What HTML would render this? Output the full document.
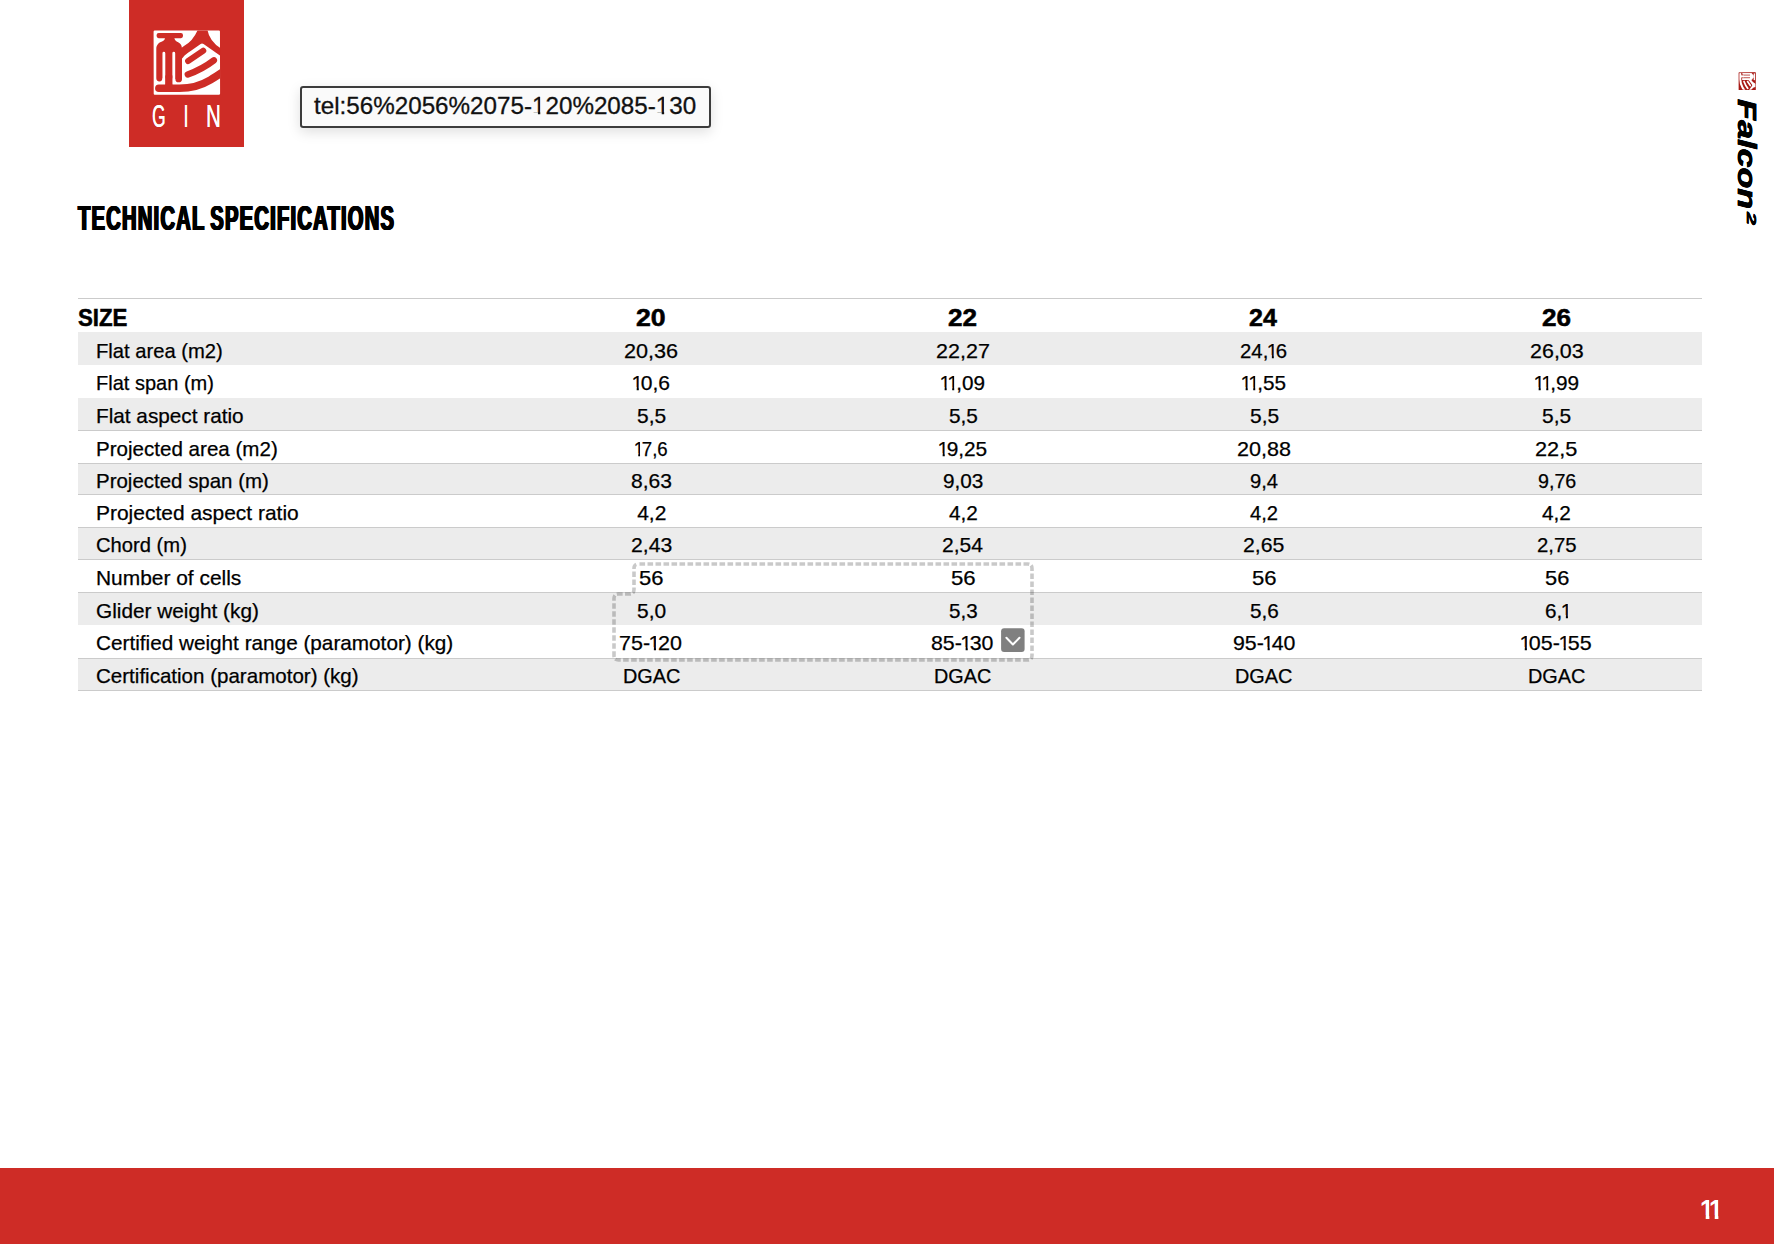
<!DOCTYPE html>
<html lang="en">
<head>
<meta charset="utf-8">
<title>Falcon 2 – Technical specifications</title>
<style>
html,body{margin:0;padding:0;background:#fff;}
body{width:1774px;height:1244px;position:relative;overflow:hidden;font-family:"Liberation Sans",sans-serif;color:#000;}
.t{position:absolute;white-space:nowrap;line-height:1em;transform-origin:0 0;display:block;}
.n{display:inline-block;margin:0 -0.12em 0 -0.07em;clip-path:polygon(0 0,62% 0,62% 100%,44% 100%,44% 73%,0 73%);}
.m{display:inline-block;clip-path:polygon(0 0,62% 0,62% 100%,44% 100%,44% 73%,0 73%);}
.k{display:inline-block;clip-path:polygon(0 0,68% 0,68% 100%,41% 100%,41% 69%,0 69%);}
.g{position:absolute;left:78px;width:1624px;background:#ececec;}
.b{position:absolute;left:78px;width:1624px;height:1px;background:#cbcbcb;}
#logo{position:absolute;left:129px;top:0;width:115px;height:147px;background:#ce2c26;}
#footer{position:absolute;left:0;top:1168.3px;width:1774px;height:76px;background:#ce2c26;}
#tip{position:absolute;left:300px;top:86px;width:411.2px;height:41.8px;box-sizing:border-box;border:2px solid #3c3c3c;border-radius:3.2px;background:#fafafa;box-shadow:0 4px 13px rgba(0,0,0,.13);}
</style>
</head>
<body>
<div id="logo"></div>
<div id="tip"></div>
<div id="table">
<div class="g" style="top:332.4px;height:32.5px"></div>
<div class="g" style="top:398.0px;height:32.4px"></div>
<div class="g" style="top:463.0px;height:31.6px"></div>
<div class="g" style="top:527.0px;height:32.5px"></div>
<div class="g" style="top:592.3px;height:32.4px"></div>
<div class="g" style="top:658.1px;height:32.7px"></div>
<div class="b" style="top:298px"></div>
<div class="b" style="top:430px"></div>
<div class="b" style="top:463px"></div>
<div class="b" style="top:494px"></div>
<div class="b" style="top:527px"></div>
<div class="b" style="top:559px"></div>
<div class="b" style="top:592px"></div>
<div class="b" style="top:658px"></div>
<div class="b" style="top:690px"></div>
</div>
<div id="footer"></div>
<svg id="seal" viewBox="0 0 1244 1244" width="80" height="80" style="position:absolute;left:146px;top:24px">
<defs><clipPath id="cl1"><rect x="119" y="100" width="1032" height="1000" rx="16"/></clipPath></defs>
<path fill="#fff" d="M136,100 L1134,100 Q1150,100 1150,118 L1152,1084 Q1150,1100 1134,1100 L136,1100 Q120,1100 120,1084 L118,118 Q120,100 136,100 Z"/>
<g clip-path="url(#cl1)" fill="#ce2c26">
<rect x="165" y="140" width="410" height="80" rx="32"/>
<path d="M295,215 C295,245 280,262 250,272 C195,290 160,325 160,390 L160,845 A48,48 0 0 0 256,845 L300,845 L300,1000 L410,1000 L410,845 L455,855 A52,52 0 0 0 560,855 L560,400 C560,340 545,305 500,285 C465,270 445,250 440,215 Z"/>
<path d="M278,455 L278,925 M432,455 L432,925" stroke="#fff" stroke-width="44" stroke-linecap="round" fill="none"/>
<rect x="300" y="800" width="110" height="200"/>
<path d="M200,1000 L520,1000 C700,1000 850,960 1000,870 C1070,828 1120,795 1230,720" stroke="#ce2c26" stroke-width="118" stroke-linecap="round" fill="none"/>
<path d="M806,90 Q725,275 585,345 L540,380 L540,560 L575,520 C600,480 640,455 700,415 L850,310 Q872,295 895,312 L1170,505 L1170,385 Q985,268 955,90 Z"/>
<path d="M655,575 L890,415" stroke="#ce2c26" stroke-width="95" stroke-linecap="round" fill="none"/>
<path d="M650,785 Q880,700 1055,565" stroke="#ce2c26" stroke-width="100" stroke-linecap="round" fill="none"/>
</g>
</svg>
<svg id="seal2" viewBox="100 80 1070 1040" width="18.3" height="18.4" style="position:absolute;left:1737.85px;top:72.0px;transform:rotate(90deg)">
<defs><clipPath id="cl2"><rect x="119" y="100" width="1032" height="1000" rx="16"/></clipPath></defs>
<path fill="#a81a16" d="M136,100 L1134,100 Q1150,100 1150,118 L1152,1084 Q1150,1100 1134,1100 L136,1100 Q120,1100 120,1084 L118,118 Q120,100 136,100 Z"/>
<g clip-path="url(#cl2)" fill="#fff">
<rect x="165" y="140" width="410" height="80" rx="32"/>
<path d="M295,215 C295,245 280,262 250,272 C195,290 160,325 160,390 L160,845 A48,48 0 0 0 256,845 L300,845 L300,1000 L410,1000 L410,845 L455,855 A52,52 0 0 0 560,855 L560,400 C560,340 545,305 500,285 C465,270 445,250 440,215 Z"/>
<path d="M278,455 L278,925 M432,455 L432,925" stroke="#a81a16" stroke-width="44" stroke-linecap="round" fill="none"/>
<rect x="300" y="800" width="110" height="200"/>
<path d="M200,1000 L520,1000 C700,1000 850,960 1000,870 C1070,828 1120,795 1230,720" stroke="#fff" stroke-width="118" stroke-linecap="round" fill="none"/>
<path d="M806,90 Q725,275 585,345 L540,380 L540,560 L575,520 C600,480 640,455 700,415 L850,310 Q872,295 895,312 L1170,505 L1170,385 Q985,268 955,90 Z"/>
<path d="M655,575 L890,415" stroke="#fff" stroke-width="95" stroke-linecap="round" fill="none"/>
<path d="M650,785 Q880,700 1055,565" stroke="#fff" stroke-width="100" stroke-linecap="round" fill="none"/>
</g>
<rect x="135" y="115" width="1000" height="970" rx="10" fill="none" stroke="#a81a16" stroke-width="20"/>
</svg>
<svg id="sel" width="1774" height="1244" viewBox="0 0 1774 1244" style="position:absolute;left:0;top:0;pointer-events:none">
<path d="M638.5,564.0 L1027.5,564.0 Q1032.0,564.0 1032.0,568.5 L1032.0,655.5 Q1032.0,660.0 1027.5,660.0 L618.5,660.0 Q614.0,660.0 614.0,655.5 L614.0,598.5 Q614.0,594.0 618.5,594.0 L629.5,594.0 Q634.0,594.0 634.0,589.5 L634.0,568.5 Q634.0,564.0 638.5,564.0 Z" fill="none" stroke="#000" stroke-opacity="0.21" stroke-width="3.6" stroke-dasharray="5.6 2.4" stroke-dashoffset="-1"/>
<rect x="1001.1" y="628.2" width="23.5" height="23.8" rx="3" fill="#808080"/>
<path d="M1006.4,637.8 L1012.9,644.5 L1019.5,637.8" fill="none" stroke="#fff" stroke-width="2" stroke-linecap="round" stroke-linejoin="round"/>
</svg>
<span class="t" style="left:96.16px;top:340.00px;font-size:21px;transform:scaleX(0.9617);-webkit-text-stroke:0.25px #000;">Flat area (m2)</span>
<span class="t" style="left:96.16px;top:372.00px;font-size:21px;transform:scaleX(0.9530);-webkit-text-stroke:0.25px #000;">Flat span (m)</span>
<span class="t" style="left:96.16px;top:405.00px;font-size:21px;transform:scaleX(0.9878);-webkit-text-stroke:0.25px #000;">Flat aspect ratio</span>
<span class="t" style="left:96.16px;top:438.00px;font-size:21px;transform:scaleX(0.9796);-webkit-text-stroke:0.25px #000;">Projected area (m2)</span>
<span class="t" style="left:96.16px;top:470.00px;font-size:21px;transform:scaleX(0.9744);-webkit-text-stroke:0.25px #000;">Projected span (m)</span>
<span class="t" style="left:96.16px;top:502.00px;font-size:21px;transform:scaleX(0.9982);-webkit-text-stroke:0.25px #000;">Projected aspect ratio</span>
<span class="t" style="left:96.16px;top:534.00px;font-size:21px;transform:scaleX(0.9613);-webkit-text-stroke:0.25px #000;">Chord (m)</span>
<span class="t" style="left:96.16px;top:567.00px;font-size:21px;transform:scaleX(0.9958);-webkit-text-stroke:0.25px #000;">Number of cells</span>
<span class="t" style="left:96.16px;top:600.00px;font-size:21px;transform:scaleX(0.9899);-webkit-text-stroke:0.25px #000;">Glider weight (kg)</span>
<span class="t" style="left:96.16px;top:632.00px;font-size:21px;transform:scaleX(0.9872);-webkit-text-stroke:0.25px #000;">Certified weight range (paramotor) (kg)</span>
<span class="t" style="left:96.16px;top:665.00px;font-size:21px;transform:scaleX(0.9783);-webkit-text-stroke:0.25px #000;">Certification (paramotor) (kg)</span>
<span class="t" style="left:624.07px;top:340.00px;font-size:21px;transform:scaleX(1.0305);-webkit-text-stroke:0.25px #000;">20,36</span>
<span class="t" style="left:632.80px;top:372.00px;font-size:21px;transform:scaleX(1.0028);-webkit-text-stroke:0.25px #000;"><span class="n">1</span>0,6</span>
<span class="t" style="left:636.95px;top:405.00px;font-size:21px;transform:scaleX(0.9982);-webkit-text-stroke:0.25px #000;">5,5</span>
<span class="t" style="left:634.86px;top:438.00px;font-size:21px;transform:scaleX(0.8873);-webkit-text-stroke:0.25px #000;"><span class="n">1</span>7,6</span>
<span class="t" style="left:630.95px;top:470.00px;font-size:21px;transform:scaleX(1.0013);-webkit-text-stroke:0.25px #000;">8,63</span>
<span class="t" style="left:637.15px;top:502.00px;font-size:21px;transform:scaleX(1.0000);-webkit-text-stroke:0.25px #000;">4,2</span>
<span class="t" style="left:630.69px;top:534.00px;font-size:21px;transform:scaleX(1.0077);-webkit-text-stroke:0.25px #000;">2,43</span>
<span class="t" style="left:638.91px;top:567.00px;font-size:21px;transform:scaleX(1.0483);-webkit-text-stroke:0.25px #000;">56</span>
<span class="t" style="left:636.95px;top:600.00px;font-size:21px;transform:scaleX(0.9982);-webkit-text-stroke:0.25px #000;">5,0</span>
<span class="t" style="left:619.28px;top:632.00px;font-size:21px;transform:scaleX(1.0243);-webkit-text-stroke:0.25px #000;">75-<span class="n">1</span>20</span>
<span class="t" style="left:622.58px;top:665.00px;font-size:21px;transform:scaleX(0.9470);-webkit-text-stroke:0.25px #000;">DGAC</span>
<span class="t" style="left:935.88px;top:340.00px;font-size:21px;transform:scaleX(1.0246);-webkit-text-stroke:0.25px #000;">22,27</span>
<span class="t" style="left:940.71px;top:372.00px;font-size:21px;transform:scaleX(0.9850);-webkit-text-stroke:0.25px #000;"><span class="n">1</span><span class="n">1</span>,09</span>
<span class="t" style="left:948.56px;top:405.00px;font-size:21px;transform:scaleX(0.9910);-webkit-text-stroke:0.25px #000;">5,5</span>
<span class="t" style="left:938.80px;top:438.00px;font-size:21px;transform:scaleX(0.9926);-webkit-text-stroke:0.25px #000;"><span class="n">1</span>9,25</span>
<span class="t" style="left:942.96px;top:470.00px;font-size:21px;transform:scaleX(0.9885);-webkit-text-stroke:0.25px #000;">9,03</span>
<span class="t" style="left:948.55px;top:502.00px;font-size:21px;transform:scaleX(0.9893);-webkit-text-stroke:0.25px #000;">4,2</span>
<span class="t" style="left:941.90px;top:534.00px;font-size:21px;transform:scaleX(1.0025);-webkit-text-stroke:0.25px #000;">2,54</span>
<span class="t" style="left:950.61px;top:567.00px;font-size:21px;transform:scaleX(1.0575);-webkit-text-stroke:0.25px #000;">56</span>
<span class="t" style="left:948.56px;top:600.00px;font-size:21px;transform:scaleX(0.9802);-webkit-text-stroke:0.25px #000;">5,3</span>
<span class="t" style="left:931.34px;top:632.00px;font-size:21px;transform:scaleX(1.0167);-webkit-text-stroke:0.25px #000;">85-<span class="n">1</span>30</span>
<span class="t" style="left:933.88px;top:665.00px;font-size:21px;transform:scaleX(0.9436);-webkit-text-stroke:0.25px #000;">DGAC</span>
<span class="t" style="left:1240.23px;top:340.00px;font-size:21px;transform:scaleX(0.9690);-webkit-text-stroke:0.25px #000;">24,<span class="n">1</span>6</span>
<span class="t" style="left:1242.01px;top:372.00px;font-size:21px;transform:scaleX(0.9862);-webkit-text-stroke:0.25px #000;"><span class="n">1</span><span class="n">1</span>,55</span>
<span class="t" style="left:1249.65px;top:405.00px;font-size:21px;transform:scaleX(0.9982);-webkit-text-stroke:0.25px #000;">5,5</span>
<span class="t" style="left:1236.97px;top:438.00px;font-size:21px;transform:scaleX(1.0286);-webkit-text-stroke:0.25px #000;">20,88</span>
<span class="t" style="left:1250.18px;top:470.00px;font-size:21px;transform:scaleX(0.9607);-webkit-text-stroke:0.25px #000;">9,4</span>
<span class="t" style="left:1250.16px;top:502.00px;font-size:21px;transform:scaleX(0.9607);-webkit-text-stroke:0.25px #000;">4,2</span>
<span class="t" style="left:1242.99px;top:534.00px;font-size:21px;transform:scaleX(1.0140);-webkit-text-stroke:0.25px #000;">2,65</span>
<span class="t" style="left:1252.01px;top:567.00px;font-size:21px;transform:scaleX(1.0529);-webkit-text-stroke:0.25px #000;">56</span>
<span class="t" style="left:1249.66px;top:600.00px;font-size:21px;transform:scaleX(0.9874);-webkit-text-stroke:0.25px #000;">5,6</span>
<span class="t" style="left:1232.94px;top:632.00px;font-size:21px;transform:scaleX(1.0167);-webkit-text-stroke:0.25px #000;">95-<span class="n">1</span>40</span>
<span class="t" style="left:1234.98px;top:665.00px;font-size:21px;transform:scaleX(0.9470);-webkit-text-stroke:0.25px #000;">DGAC</span>
<span class="t" style="left:1529.88px;top:340.00px;font-size:21px;transform:scaleX(1.0227);-webkit-text-stroke:0.25px #000;">26,03</span>
<span class="t" style="left:1534.61px;top:372.00px;font-size:21px;transform:scaleX(0.9896);-webkit-text-stroke:0.25px #000;"><span class="n">1</span><span class="n">1</span>,99</span>
<span class="t" style="left:1542.25px;top:405.00px;font-size:21px;transform:scaleX(0.9982);-webkit-text-stroke:0.25px #000;">5,5</span>
<span class="t" style="left:1535.17px;top:438.00px;font-size:21px;transform:scaleX(1.0344);-webkit-text-stroke:0.25px #000;">22,5</span>
<span class="t" style="left:1538.00px;top:470.00px;font-size:21px;transform:scaleX(0.9376);-webkit-text-stroke:0.25px #000;">9,76</span>
<span class="t" style="left:1542.45px;top:502.00px;font-size:21px;transform:scaleX(0.9893);-webkit-text-stroke:0.25px #000;">4,2</span>
<span class="t" style="left:1536.93px;top:534.00px;font-size:21px;transform:scaleX(0.9682);-webkit-text-stroke:0.25px #000;">2,75</span>
<span class="t" style="left:1544.62px;top:567.00px;font-size:21px;transform:scaleX(1.0391);-webkit-text-stroke:0.25px #000;">56</span>
<span class="t" style="left:1544.62px;top:600.00px;font-size:21px;transform:scaleX(0.9843);-webkit-text-stroke:0.25px #000;">6,<span class="n">1</span></span>
<span class="t" style="left:1520.79px;top:632.00px;font-size:21px;transform:scaleX(1.0221);-webkit-text-stroke:0.25px #000;"><span class="n">1</span>05-<span class="n">1</span>55</span>
<span class="t" style="left:1527.88px;top:665.00px;font-size:21px;transform:scaleX(0.9470);-webkit-text-stroke:0.25px #000;">DGAC</span>
<span class="t" style="left:77.53px;top:307.00px;font-size:23.5px;font-weight:bold;transform:scaleX(0.9471);-webkit-text-stroke:0.5px #000;">SIZE</span>
<span class="t" style="left:636.12px;top:307.00px;font-size:23px;font-weight:bold;transform:scaleX(1.1592);-webkit-text-stroke:0.5px #000;">20</span>
<span class="t" style="left:947.53px;top:307.00px;font-size:23px;font-weight:bold;transform:scaleX(1.1347);-webkit-text-stroke:0.5px #000;">22</span>
<span class="t" style="left:1249.16px;top:307.00px;font-size:23px;font-weight:bold;transform:scaleX(1.0891);-webkit-text-stroke:0.5px #000;">24</span>
<span class="t" style="left:1541.73px;top:307.00px;font-size:23px;font-weight:bold;transform:scaleX(1.1347);-webkit-text-stroke:0.5px #000;">26</span>
<span class="t" style="left:77.87px;top:201.00px;font-size:35.5px;font-weight:bold;transform:scaleX(0.5671);letter-spacing:2.2px;word-spacing:-3px;text-shadow:0.7px 0 0 #000,-0.7px 0 0 #000,1.4px 0 0 #000,-1.4px 0 0 #000;">TECHNICAL SPECIFICATIONS</span>
<span class="t" style="left:314.14px;top:95.00px;font-size:23.6px;color:#111;transform:scaleX(1.0258);-webkit-text-stroke:0.3px #111;">tel:56%2056%2075-<span class="m">1</span>20%2085-<span class="m">1</span>30</span>
<span class="t" style="left:1700.22px;top:1196.00px;font-size:28.1px;font-weight:bold;color:#fff;transform:scaleX(0.8914);"><span class="k">1</span></span>
<span class="t" style="left:1709.32px;top:1196.00px;font-size:28.1px;font-weight:bold;color:#fff;transform:scaleX(0.8914);"><span class="k">1</span></span>
<span class="t" style="left:1758.90px;top:99.00px;font-size:25.6px;font-weight:bold;font-style:italic;transform:rotate(90deg) scaleX(1.3370);-webkit-text-stroke:0.6px #000;text-shadow:0 0.4px 0 #000,0 -0.4px 0 #000;">Falcon</span>
<span class="t" style="left:1757.30px;top:211.95px;font-size:12.4px;font-weight:bold;font-style:italic;transform:rotate(90deg) scaleX(1.9067);-webkit-text-stroke:0.4px #000;text-shadow:0 0.4px 0 #000,0 -0.4px 0 #000;">2</span>
<span class="t" style="left:152.36px;top:101.00px;font-size:31.0px;color:#fff;transform:scaleX(0.5590);text-shadow:0.5px 0 0 #fff;">G</span>
<span class="t" style="left:183.18px;top:101.00px;font-size:31.0px;color:#fff;transform:scaleX(0.7000);">I</span>
<span class="t" style="left:206.36px;top:101.00px;font-size:31.0px;color:#fff;transform:scaleX(0.6556);text-shadow:0.5px 0 0 #fff;">N</span>
</body>
</html>
